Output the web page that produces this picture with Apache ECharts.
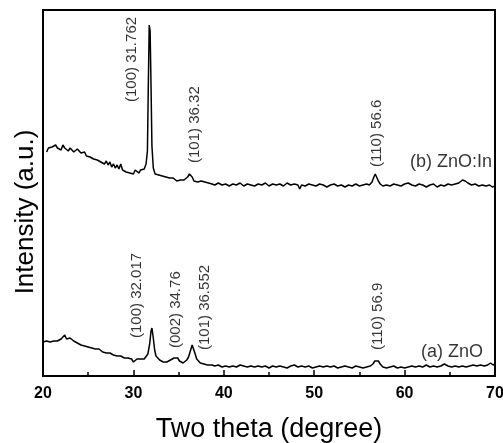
<!DOCTYPE html>
<html>
<head>
<meta charset="utf-8">
<script src="https://cdn.jsdelivr.net/npm/echarts@6/dist/echarts.min.js"></script>
<style>
html,body{margin:0;padding:0;background:#fff;}
#chart{width:503px;height:443px;}
</style>
</head>
<body>
<div id="chart"></div>
<script>
// Data (x = two theta in degrees, y = intensity in arbitrary units)
const znoIn = [[20.4,224],[20.6,228],[20.8,226],[21.0,229],[21.2,227],[21.4,231],[21.6,228],[21.8,230],[22.0,226],[22.2,231],[22.4,228],[22.6,230],[22.8,225],[23.0,228],[23.2,226],[23.4,224],[23.6,222],[23.8,227],[24.0,229],[24.2,223],[24.4,221],[24.6,224],[24.8,220],[25.0,222],[25.2,219],[25.4,221],[25.6,217],[25.8,219],[26.0,216],[26.2,218],[26.4,214],[26.6,216],[26.8,212],[27.0,215],[27.2,211],[27.4,214],[27.6,209],[27.8,212],[28.0,208],[28.2,211],[28.4,207],[28.6,212],[28.8,206],[29.0,208],[29.2,204],[29.4,206],[29.6,203],[29.8,205],[30.0,202],[30.2,206],[30.4,204],[30.6,203],[30.8,206],[31.0,204],[31.2,207],[31.4,212],[31.55,225],[31.65,290],[31.75,351],[31.85,345],[31.95,290],[32.05,230],[32.2,208],[32.4,202],[32.6,200],[32.8,201],[33.0,199],[33.2,200],[33.4,198],[33.6,199],[33.8,197],[34.0,198],[34.2,196],[34.4,198],[34.6,197],[34.8,195],[35.0,197],[35.2,196],[35.4,198],[35.6,196],[35.8,197],[36.0,199],[36.2,202],[36.35,203],[36.5,199],[36.7,195],[36.9,193],[37.1,194],[37.3,193],[37.5,195],[37.7,193],[37.9,194],[38.1,192],[38.3,193],[38.5,194],[38.7,192],[39.0,191],[39.4,193],[39.8,191],[40.2,192],[40.6,190],[41.0,192],[41.4,191],[41.8,193],[42.2,190],[42.6,192],[43.0,191],[43.4,190],[43.8,192],[44.2,191],[44.6,193],[45.0,190],[45.4,192],[45.8,191],[46.2,192],[46.6,190],[47.0,193],[47.4,191],[47.8,192],[48.2,191],[48.4,187],[48.6,191],[49.0,190],[49.4,192],[49.8,191],[50.2,190],[50.6,192],[51.0,191],[51.4,189],[51.8,191],[52.2,192],[52.6,190],[53.0,191],[53.4,189],[53.8,191],[54.2,190],[54.6,192],[55.0,190],[55.4,191],[55.8,192],[56.1,191],[56.4,194],[56.6,199],[56.75,202],[56.9,200],[57.1,195],[57.3,192],[57.6,190],[58.0,191],[58.4,190],[58.8,192],[59.2,191],[59.6,190],[60.0,192],[60.4,193],[60.8,191],[61.2,190],[61.6,192],[62.0,191],[62.4,189],[62.8,191],[63.2,192],[63.6,189],[64.0,191],[64.4,190],[64.8,192],[65.2,191],[65.6,192],[66.0,193],[66.4,196],[66.7,195],[67.0,193],[67.4,191],[67.8,192],[68.2,190],[68.6,191],[69.0,190],[69.4,191],[69.7,189],[70.0,190]];

const zno = [[20.0,34],[20.2,36],[20.4,35],[20.6,37],[20.8,34],[21.0,36],[21.2,35],[21.4,37],[21.6,35],[21.8,36],[22.0,37],[22.2,39],[22.4,41],[22.6,37],[22.8,39],[23.0,38],[23.2,36],[23.4,35],[23.6,34],[23.8,33],[24.0,34],[24.2,31],[24.4,32],[24.6,30],[24.8,31],[25.0,29],[25.2,30],[25.4,28],[25.6,29],[25.8,27],[26.0,26],[26.2,27],[26.4,25],[26.6,24],[26.8,25],[27.0,23],[27.2,22],[27.4,23],[27.6,24],[27.8,21],[28.0,21],[28.2,20],[28.4,19],[28.6,20],[28.8,18],[29.0,18],[29.2,17],[29.4,18],[29.6,16],[29.8,17],[30.0,14],[30.2,16],[30.4,17],[30.6,16],[30.8,17],[31.0,18],[31.2,17],[31.4,19],[31.6,22],[31.8,32],[31.95,45],[32.05,48],[32.2,38],[32.35,26],[32.5,20],[32.7,18],[32.9,16],[33.1,15],[33.3,14],[33.5,15],[33.7,14],[33.9,15],[34.1,16],[34.3,17],[34.5,18],[34.7,19],[34.9,18],[35.1,15],[35.3,14],[35.5,13],[35.7,14],[35.9,16],[36.1,19],[36.3,25],[36.5,31],[36.6,30],[36.8,23],[37.0,17],[37.2,15],[37.4,13],[37.6,14],[37.8,12],[38.0,13],[38.2,11],[38.4,12],[38.7,11],[39.0,10],[39.4,11],[39.8,9],[40.0,7],[40.2,10],[40.6,9],[41.0,10],[41.4,9],[41.8,11],[42.2,10],[42.6,9],[43.0,10],[43.4,9],[43.8,10],[44.2,9],[44.6,10],[45.0,8],[45.4,10],[45.8,9],[46.2,10],[46.6,9],[47.0,8],[47.4,10],[47.8,11],[48.2,9],[48.6,10],[49.0,9],[49.4,10],[49.8,8],[50.2,9],[50.6,10],[51.0,9],[51.4,10],[51.8,9],[52.2,10],[52.6,8],[53.0,9],[53.4,10],[53.8,9],[54.2,8],[54.6,10],[55.0,9],[55.4,8],[55.8,9],[56.2,10],[56.5,12],[56.7,15],[56.9,17],[57.1,15],[57.3,12],[57.6,9],[58.0,8],[58.4,9],[58.8,10],[59.2,8],[59.6,9],[60.0,8],[60.4,9],[60.8,10],[61.2,9],[61.6,10],[62.0,9],[62.4,11],[62.8,9],[63.2,10],[63.6,9],[64.0,10],[64.4,12],[64.8,10],[65.2,9],[65.6,10],[66.0,9],[66.4,10],[66.8,9],[67.2,10],[67.6,11],[68.0,10],[68.4,11],[68.8,10],[69.2,11],[69.5,13],[69.8,11],[70.0,12]];

// Peak annotations (text, anchor x, anchor y = bottom of rotated text)
const peakLabelText = ['(100) 31.762', '(101) 36.32', '(110) 56.6', '(100) 32.017', '(002) 34.76', '(101) 36.552', '(110) 56.9'];
const peakLabelX = [29.85, 36.8, 56.95, 30.4, 34.66, 37.9, 57.06];
const peakLabelY = [274, 213, 209, 38, 28, 26, 26];

// Sample names (text, right-edge x, centre y)
const sampleText = ['(b) ZnO:In', '(a) ZnO'];
const sampleX = [69.67, 68.67];
const sampleY = [214, 24];

const xTicks = { min: 20, max: 70, interval: 10 };
const FONT = "'Liberation Sans', Arial, Helvetica, sans-serif";

const chart = echarts.init(document.getElementById('chart'));
chart.setOption({
  animation: false,
  backgroundColor: '#fff',
  grid: { left: 43, right: 8, top: 10, bottom: 67, show: true, borderColor: '#000', borderWidth: 2,
    containLabel: false, outerBoundsMode: 'none' },
  xAxis: {
    type: 'value', min: xTicks.min, max: xTicks.max, interval: xTicks.interval,
    name: 'Two theta (degree)', nameLocation: 'middle', nameGap: 40,
    nameTextStyle: { fontFamily: FONT, fontSize: 27, color: '#000' },
    axisLine: { show: true, lineStyle: { color: '#000', width: 2 } },
    axisTick: { show: true, inside: true, length: 6, lineStyle: { color: '#000', width: 1.5 } },
    minorTick: { show: true, splitNumber: 2, length: 4, lineStyle: { color: '#000', width: 1.5 } },
    splitLine: { show: false },
    axisLabel: { fontFamily: FONT, fontSize: 16, fontWeight: 'bold', color: '#000', margin: 10 }
  },
  yAxis: {
    type: 'value', min: 0, max: 366,
    name: 'Intensity (a.u.)', nameLocation: 'middle', nameGap: 4,
    nameTextStyle: { fontFamily: FONT, fontSize: 26, color: '#000', padding: [0, 38, 0, 0] },
    axisLine: { show: true, lineStyle: { color: '#000', width: 2 } },
    axisTick: { show: false }, axisLabel: { show: false }, splitLine: { show: false }
  },
  series: [
    { name: 'ZnO:In', type: 'line', data: znoIn, showSymbol: false, symbol: 'none',
      lineStyle: { color: '#000', width: 1.5 }, silent: true },
    { name: 'ZnO', type: 'line', data: zno, showSymbol: false, symbol: 'none',
      lineStyle: { color: '#000', width: 1.5 }, silent: true },
    { name: 'peaks', type: 'scatter', symbolSize: 1, itemStyle: { color: 'rgba(0,0,0,0)' }, silent: true,
      data: peakLabelText.map((t, i) => ({ value: [peakLabelX[i], peakLabelY[i]], name: t })),
      label: { show: true, formatter: p => p.name, rotate: 90, position: 'inside', align: 'left', verticalAlign: 'middle',
        fontFamily: FONT, fontSize: 15, color: '#000' } },
    { name: 'samples', type: 'scatter', symbolSize: 1, itemStyle: { color: 'rgba(0,0,0,0)' }, silent: true,
      data: sampleText.map((t, i) => ({ value: [sampleX[i], sampleY[i]], name: t })),
      label: { show: true, formatter: p => p.name, position: 'inside', align: 'right', verticalAlign: 'middle',
        fontFamily: FONT, fontSize: 18, color: '#000' } }
  ]
});
</script>
</body>
</html>
